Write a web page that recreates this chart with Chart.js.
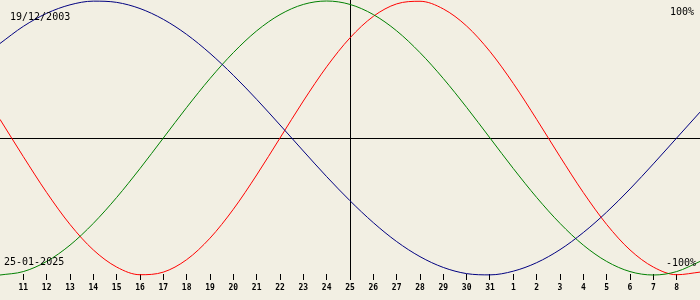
<!DOCTYPE html>
<html>
<head>
<meta charset="utf-8">
<script src="https://cdn.jsdelivr.net/npm/chart.js@4/dist/chart.umd.min.js"></script>
<style>
  html, body { margin: 0; padding: 0; background: #F2EFE3; }
  #wrap { width: 700px; height: 300px; position: relative; background: #F2EFE3; }
</style>
</head>
<body>
<div id="wrap"><canvas id="c" width="700" height="300"></canvas></div>
<script>
// Day-of-month labels, Jan 10 .. Feb 9
const dayLabels = ['10','11','12','13','14','15','16','17','18','19','20','21','22','23','24','25','26','27','28','29','30','31','1','2','3','4','5','6','7','8','9'];
// Percent values (one per day)
const physical = [13.6,-13.6,-39.8,-63.1,-81.7,-94.2,-99.8,-97.9,-88.8,-73.1,-52.0,-27.0,0,27.0,52.0,73.1,88.8,97.9,99.8,94.2,81.7,63.1,39.8,13.6,-13.6,-39.8,-63.1,-81.7,-94.2,-99.8,-97.9];
const emotional = [-100,-97.5,-90.1,-78.2,-62.3,-43.4,-22.3,0,22.3,43.4,62.3,78.2,90.1,97.5,100,97.5,90.1,78.2,62.3,43.4,22.3,0,-22.3,-43.4,-62.3,-78.2,-90.1,-97.5,-100,-97.5,-90.1];
const intellectual = [69.0,81.5,91.0,97.2,99.9,99.0,94.5,86.6,75.6,61.8,45.8,28.2,9.5,-9.5,-28.2,-45.8,-61.8,-75.6,-86.6,-94.5,-99.0,-99.9,-97.2,-91.0,-81.5,-69.0,-54.1,-37.2,-18.9,0,18.9];
const todayIndex = 15;
const birthText = '19/12/2003';
const dateText = '25-01-2025';
const topText = '100%';
const bottomText = '-100%';

const cornerText = {
  id: 'cornerText',
  afterDatasetsDraw(chart) {
    const ctx = chart.ctx;
    const y = chart.scales.y;
    ctx.save();
    ctx.fillStyle = '#000';
    ctx.font = '10px "DejaVu Sans Mono"';
    ctx.textBaseline = 'middle';
    ctx.textAlign = 'left';
    ctx.fillText(birthText, 10, y.getPixelForValue(88.3));
    ctx.fillText(dateText, 4, y.getPixelForValue(-90.5));
    ctx.textAlign = 'right';
    ctx.fillText(topText, 694, y.getPixelForValue(91.6));
    ctx.fillText(bottomText, 696, y.getPixelForValue(-91.3));
    ctx.restore();
  }
};

new Chart(document.getElementById('c'), {
  type: 'line',
  data: {
    labels: dayLabels,
    datasets: [
      { data: intellectual, borderColor: '#000080', borderWidth: 1, pointRadius: 0, cubicInterpolationMode: 'monotone', clip: false },
      { data: emotional, borderColor: '#008000', borderWidth: 1, pointRadius: 0, cubicInterpolationMode: 'monotone', clip: false },
      { data: physical, borderColor: '#ff0000', borderWidth: 1, pointRadius: 0, cubicInterpolationMode: 'monotone', clip: false }
    ]
  },
  options: {
    responsive: false,
    animation: false,
    devicePixelRatio: 1,
    layout: { padding: 0 },
    plugins: { legend: { display: false }, tooltip: { enabled: false } },
    scales: {
      x: {
        offset: false,
        border: { display: false },
        afterFit: (s) => { s.height = 26; s.paddingLeft = 0; s.paddingRight = 0; },
        grid: {
          drawOnChartArea: true,
          color: (c) => c.index === todayIndex ? '#000' : 'rgba(0,0,0,0)',
          tickColor: (c) => (c.index === 0 || c.index === dayLabels.length - 1) ? 'rgba(0,0,0,0)' : '#000',
          tickLength: 6,
          lineWidth: 1
        },
        ticks: {
          autoSkip: false,
          maxRotation: 0,
          padding: 3,
          color: '#000',
          font: { family: 'DejaVu Sans Mono', size: 8, weight: 'bold' },
          callback: (v, i) => (i === 0 || i === dayLabels.length - 1) ? '' : dayLabels[i]
        }
      },
      y: {
        min: -99.27,
        max: 100.73,
        border: { display: false },
        afterFit: (s) => { s.width = 0; s.paddingTop = 0; s.paddingBottom = 0; },
        grid: { drawTicks: false, color: '#000', lineWidth: 1 },
        ticks: { display: false },
        afterBuildTicks: (s) => { s.ticks = [{ value: 0 }]; }
      }
    }
  },
  plugins: [cornerText]
});
</script>
</body>
</html>
